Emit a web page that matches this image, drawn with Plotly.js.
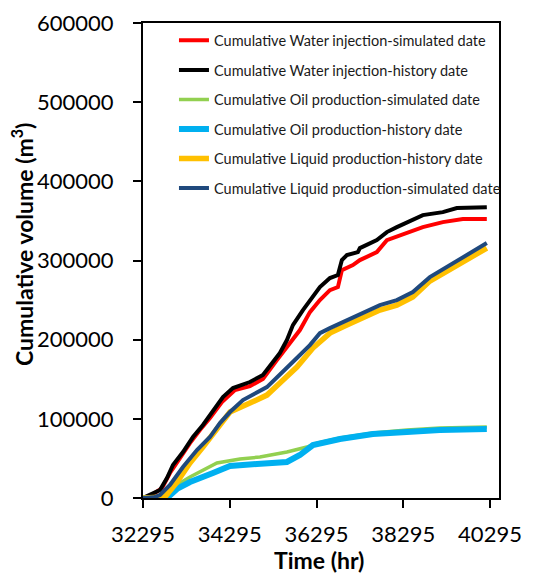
<!DOCTYPE html>
<html>
<head>
<meta charset="utf-8">
<script src="https://cdn.plot.ly/plotly-3.0.1.min.js"></script>
<style>html,body{margin:0;padding:0;background:#fff;}#chart{width:537px;height:574px;}</style>
</head>
<body>
<div id="chart"></div>
<script>
// Cumulative Water injection - simulated
const waterSimT = [32295,32502,32733,32917,33147,33378,33608,33839,34115,34415,34760,35060,35382,35682,35912,36143,36373,36604,36788,36880,37134,37295,37686,37917,38378,38746,39207,39668,40221];
const waterSimV = [0,3800,12600,31600,50500,69400,85900,101000,121200,136400,141400,150300,174200,195700,212100,234800,250000,262600,266400,287900,294200,300500,310600,325700,334600,342200,348500,352300,352300];
// Cumulative Water injection - history
const waterHistT = [32295,32456,32687,32848,32986,33217,33447,33677,33885,34138,34369,34760,35060,35290,35451,35613,35751,35982,36143,36373,36604,36788,36880,36995,37249,37295,37686,37917,38147,38516,38746,39207,39530,40221];
const waterHistV = [0,3800,10100,25300,41700,58100,77000,92200,107300,127500,138900,146500,155300,170500,183100,199500,218400,237400,250000,266400,277800,281600,300500,306800,310600,315700,325700,335900,342200,351000,357300,361100,366200,367400];
// Cumulative Oil production - simulated
const oilSimT = [32295,32502,32687,32986,33378,34000,34530,34991,35613,36074,36304,36834,37594,38378,39138,40221];
const oilSimV = [0,0,3800,13900,26500,44200,49200,51800,58100,64400,69400,75800,82100,85900,88400,89600];
// Cumulative Oil production - history
const oilHistT = [32295,32618,32848,33078,33378,33908,34300,34921,35613,35912,36212,36834,37594,38378,39138,40221];
const oilHistV = [0,0,0,11400,20200,31600,40400,42900,45500,54300,66900,74500,80800,83300,85900,87100];
// Cumulative Liquid production - history
const liqHistT = [32295,32571,32802,33078,33378,33677,34000,34300,34760,35152,35451,35843,36212,36373,36604,36995,37364,37756,38147,38516,38908,39369,39760,40221];
const liqHistV = [0,0,1300,20200,44200,64400,88400,108600,119900,130000,145200,165400,189400,197000,208300,218400,228500,237400,243700,253800,274000,289100,301800,315700];
// Cumulative Liquid production - simulated
const liqSimT = [32295,32571,32687,32917,33217,33539,33839,34069,34300,34599,35152,35451,35843,36143,36373,36604,36995,37364,37756,38147,38516,38908,39369,39760,40221];
const liqSimV = [0,1300,3800,16400,39100,60600,77000,94700,108600,123700,140100,155300,176800,193200,208300,214600,224700,234800,243700,250000,260100,279000,294200,306800,322000];

const seriesNames = [
  "Cumulative Water injection-simulated date",
  "Cumulative Water injection-history date",
  "Cumulative Oil production-simulated date",
  "Cumulative Oil production-history date",
  "Cumulative Liquid production-history date",
  "Cumulative Liquid production-simulated date"
];
const xTicks = [32295,34295,36295,38295,40295];
const yTicks = [0,100000,200000,300000,400000,500000,600000];

const seriesData = [
  [waterSimT, waterSimV, "#FF0000", 4],
  [waterHistT, waterHistV, "#000000", 4],
  [oilSimT, oilSimV, "#92D050", 3.5],
  [oilHistT, oilHistV, "#00B0F0", 6],
  [liqHistT, liqHistV, "#FFC000", 5.5],
  [liqSimT, liqSimV, "#1F497D", 4]
];

const traces = seriesData.map((s, i) => ({
  type: "scatter", mode: "lines",
  x: s[0], y: s[1], name: seriesNames[i],
  legendgroup: "g" + i,
  line: {color: s[2], width: s[3]}
}));

const font = "Lato, 'Open Sans', sans-serif";
const layout = {
  width: 537, height: 574,
  margin: {l: 143, r: 38, t: 23, b: 76},
  paper_bgcolor: "#fff", plot_bgcolor: "#fff",
  showlegend: true,
  legend: {
    x: 0.087, y: 0.997, xanchor: "left", yanchor: "top",
    bgcolor: "rgba(0,0,0,0)", borderwidth: 0,
    font: {family: font, size: 14.5, color: "#1a1a1a"},
    tracegroupgap: 7.7
  },
  xaxis: {
    range: [32295, 40502],
    tickvals: xTicks, ticktext: xTicks.map(String),
    ticks: "outside", ticklen: 8, tickwidth: 2, tickcolor: "#000",
    ticklabelstandoff: 8,
    showline: true, linewidth: 2, linecolor: "#000", mirror: true,
    showgrid: false, zeroline: false,
    tickfont: {family: font, size: 22, color: "#000"}
  },
  yaxis: {
    range: [0, 600000],
    tickvals: yTicks, ticktext: yTicks.map(String),
    ticks: "outside", ticklen: 8, tickwidth: 2, tickcolor: "#000",
    ticklabelstandoff: 15,
    showline: true, linewidth: 2, linecolor: "#000", mirror: true,
    showgrid: false, zeroline: false,
    tickfont: {family: font, size: 22, color: "#000"}
  },
  annotations: [{
    text: "<b>Cumulative volume (m<sup>3</sup>)</b>",
    xref: "paper", yref: "paper",
    x: (23 - 143) / 356, y: (498 - 245) / 475,
    xanchor: "center", yanchor: "middle",
    textangle: -90, showarrow: false,
    font: {family: font, size: 23, color: "#000"}
  }, {
    text: "<b>Time (hr)</b>",
    xref: "paper", yref: "paper",
    x: (319 - 143) / 356, y: (498 - 560) / 475,
    xanchor: "center", yanchor: "middle",
    showarrow: false,
    font: {family: font, size: 23, color: "#000"}
  }]
};

Plotly.newPlot("chart", traces, layout, {displayModeBar: false, staticPlot: true});
</script>
</body>
</html>
